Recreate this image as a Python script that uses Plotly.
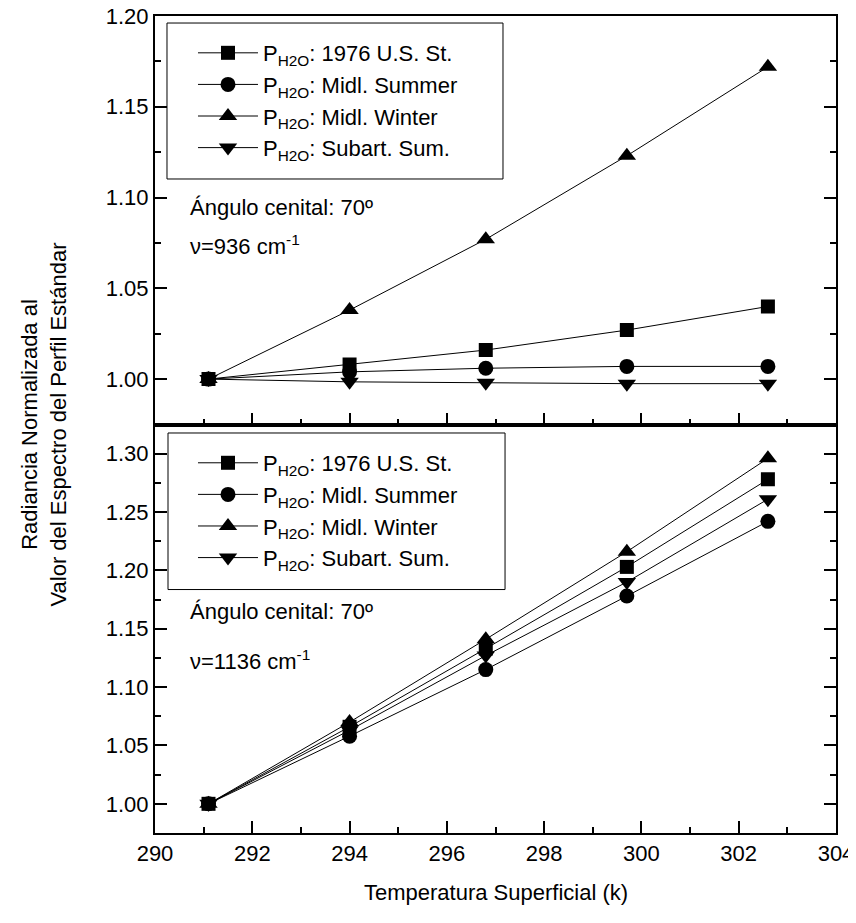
import plotly.graph_objects as go

# ---------------- data ----------------
temps = [291.1, 294.0, 296.8, 299.7, 302.6]

series_names = [
    "P<sub>H2O</sub>: 1976 U.S. St.",
    "P<sub>H2O</sub>: Midl. Summer",
    "P<sub>H2O</sub>: Midl. Winter",
    "P<sub>H2O</sub>: Subart. Sum.",
]

# top panel: nu = 936 cm-1
top_us76 = [1.000, 1.008, 1.016, 1.027, 1.040]
top_midsum = [1.000, 1.004, 1.006, 1.007, 1.007]
top_midwin = [1.000, 1.038, 1.077, 1.123, 1.172]
top_subsum = [1.000, 0.9985, 0.998, 0.9975, 0.9975]

# bottom panel: nu = 1136 cm-1
bot_us76 = [1.000, 1.066, 1.133, 1.203, 1.278]
bot_midsum = [1.000, 1.058, 1.115, 1.178, 1.242]
bot_midwin = [1.000, 1.070, 1.141, 1.216, 1.296]
bot_subsum = [1.000, 1.063, 1.127, 1.190, 1.261]

x_ticks = [290, 292, 294, 296, 298, 300, 302, 304]
top_y_ticks = [1.00, 1.05, 1.10, 1.15, 1.20]
bot_y_ticks = [1.00, 1.05, 1.10, 1.15, 1.20, 1.25, 1.30]

# ---------------- styling ----------------
FONT = "Liberation Sans, Arial, sans-serif"
FS = 22
symbols = ["square", "circle", "triangle-up", "triangle-down"]
sizes = [14, 15, 16, 16]

fig = go.Figure()

top_vals = [top_us76, top_midsum, top_midwin, top_subsum]
bot_vals = [bot_us76, bot_midsum, bot_midwin, bot_subsum]

for name, vals, sym, sz in zip(series_names, top_vals, symbols, sizes):
    fig.add_trace(go.Scatter(
        x=temps, y=vals, name=name, mode="lines+markers",
        line=dict(color="black", width=1),
        marker=dict(symbol=sym, size=sz, color="black"),
        xaxis="x2", yaxis="y2", legend="legend",
    ))

for name, vals, sym, sz in zip(series_names, bot_vals, symbols, sizes):
    fig.add_trace(go.Scatter(
        x=temps, y=vals, name=name, mode="lines+markers",
        line=dict(color="black", width=1),
        marker=dict(symbol=sym, size=sz, color="black"),
        xaxis="x", yaxis="y", legend="legend2",
    ))

axis_common = dict(
    showgrid=False, zeroline=False, showline=True, linecolor="black",
    linewidth=2, ticks="inside", tickcolor="black", tickwidth=2,
    ticklen=12, tickfont=dict(family=FONT, size=FS, color="black"),
    automargin=False, ticklabeloverflow="allow",
)
minor_common = dict(ticklen=6, tickcolor="black", tickwidth=2, ticks="inside")

legend_common = dict(
    xanchor="left", yanchor="top",
    borderwidth=0, bgcolor="rgba(0,0,0,0)",
    font=dict(family=FONT, size=FS, color="black"),
    tracegroupgap=0, itemwidth=60,
)

fig.update_layout(
    width=848, height=907,
    margin=dict(l=147, r=20, t=8, b=82),
    plot_bgcolor="white", paper_bgcolor="white",
    font=dict(family=FONT, size=FS, color="black"),
    xaxis=dict(
        **axis_common, range=[290, 304], tickvals=x_ticks,
        ticktext=[str(v) for v in x_ticks], mirror=True,
        minor=dict(dtick=1, **minor_common),
        domain=[0, 1], anchor="y",
    ),
    yaxis=dict(
        **axis_common, range=[0.975, 1.325], tickvals=bot_y_ticks,
        ticktext=[f"{v:.2f}" for v in bot_y_ticks], mirror="ticks",
        minor=dict(dtick=0.025, tick0=1.0, **minor_common),
        domain=[0, 0.5], anchor="x",
    ),
    xaxis2=dict(
        **axis_common, range=[290, 304], tickvals=x_ticks,
        showticklabels=False, mirror=True,
        minor=dict(dtick=1, **minor_common),
        domain=[0, 1], anchor="y2",
    ),
    yaxis2=dict(
        **axis_common, range=[0.975, 1.20], tickvals=top_y_ticks,
        ticktext=[f"{v:.2f}" for v in top_y_ticks], mirror="ticks",
        minor=dict(dtick=0.025, tick0=1.0, **minor_common),
        domain=[0.5, 1], anchor="x2",
    ),
    legend=dict(x=0.0558, y=0.9804, **legend_common),
    legend2=dict(x=0.0558, y=0.4786, **legend_common),
    showlegend=True,
)

# legend frames
for (x0, y0, x1, y1) in [(0.0176, 0.8005, 0.511, 0.9914), (0.0191, 0.2980, 0.5140, 0.4896)]:
    fig.add_shape(type="rect", xref="paper", yref="paper",
                  x0=x0, y0=y0, x1=x1, y1=y1,
                  line=dict(color="black", width=1), fillcolor="white", layer="below")

annots = [
    dict(text="Ángulo cenital: 70º", x=290.68, y=1.0944, xref="x2", yref="y2"),
    dict(text="ν=936 cm<sup>-1</sup>", x=290.68, y=1.074, xref="x2", yref="y2"),
    dict(text="Ángulo cenital: 70º", x=290.68, y=1.165, xref="x", yref="y"),
    dict(text="ν=1136 cm<sup>-1</sup>", x=290.68, y=1.1234, xref="x", yref="y"),
]
for a in annots:
    fig.add_annotation(**a, showarrow=False, xanchor="left", yanchor="middle",
                       font=dict(family=FONT, size=FS, color="black"))

fig.add_annotation(
    text="Radiancia Normalizada al<br>Valor del Espectro del Perfil Estándar",
    xref="paper", yref="paper", x=-0.163, y=0.5, textangle=-90,
    showarrow=False, xanchor="center", yanchor="middle",
    font=dict(family=FONT, size=FS, color="black"),
)
fig.add_annotation(
    text="Temperatura Superficial (k)",
    xref="paper", yref="paper", x=0.5, y=-0.073,
    showarrow=False, xanchor="center", yanchor="middle",
    font=dict(family=FONT, size=FS, color="black"),
)

fig.write_html("out.html")
